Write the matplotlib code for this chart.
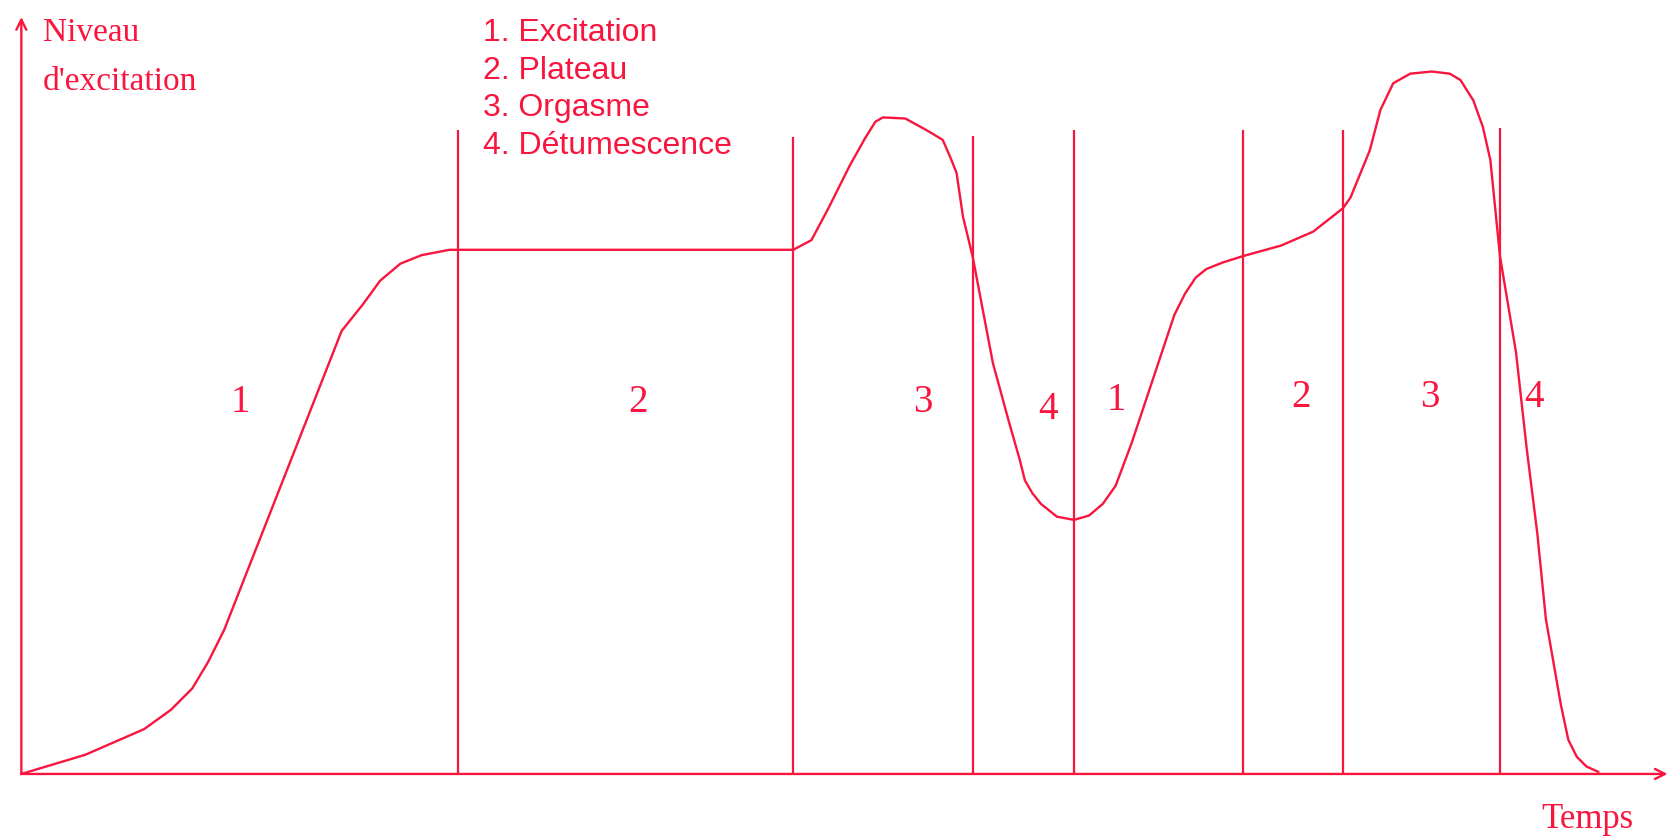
import matplotlib
matplotlib.use("Agg")
import matplotlib.pyplot as plt

# excitation curve (time, level in arbitrary units)
temps = [0, 60, 115, 140, 160, 175, 190, 300, 320, 336, 355, 375, 401, 723,
         740, 756, 776, 790, 800, 807, 828, 848, 863, 870, 876, 882, 891,
         910, 925, 935, 940, 947, 955, 970, 986, 1000, 1013, 1025, 1040,
         1060, 1080, 1090, 1100, 1110, 1125, 1144, 1180, 1210, 1238, 1245,
         1263, 1273, 1285, 1301, 1321, 1338, 1348, 1360, 1369, 1376, 1380,
         1385, 1400, 1410, 1420, 1428, 1435, 1442, 1449, 1457, 1466, 1477]
niveau = [0, 18, 42, 60, 80, 105, 135, 415, 440, 462, 478, 486, 491, 491,
          500, 530, 570, 595, 611, 615, 614, 603, 594, 578, 563, 522, 485,
          385, 330, 295, 275, 263, 253, 241, 238, 242, 253, 270, 310,
          370, 430, 450, 465, 473, 479, 485, 495, 508, 530, 540,
          584, 622, 647, 656, 658, 656, 650, 631, 606, 575, 535,
          485, 395, 305, 225, 145, 105, 65, 32, 16, 7, 2]

# phase boundaries and their heights
bornes = [409, 723, 891, 986, 1144, 1238, 1385]
hauteurs = [603, 597, 598, 603, 603, 603, 605]

# phase numbers in each zone
phases = ["1", "2", "3", "4", "1", "2", "3", "4"]
phase_t = [205, 578, 844, 962, 1026, 1199, 1319, 1417]
phase_n = [348, 348, 348, 341, 350, 353, 353, 353]

legende = ["1. Excitation", "2. Plateau", "3. Orgasme", "4. Détumescence"]

rouge = "#f8163f"

fig = plt.figure(figsize=(16.74, 8.38), dpi=100)
ax = fig.add_axes([0, 0, 1, 1])
ax.set_xlim(-20, 1548)
ax.set_ylim(-60, 725)
ax.axis("off")

# axes with arrows
ax.annotate("", xy=(0, 709), xytext=(0, 0),
            arrowprops=dict(arrowstyle="->", color=rouge, lw=1.7,
                            mutation_scale=18, shrinkA=0, shrinkB=0))
ax.annotate("", xy=(1542, 0), xytext=(0, 0),
            arrowprops=dict(arrowstyle="->", color=rouge, lw=1.7,
                            mutation_scale=18, shrinkA=0, shrinkB=0))

ax.vlines(bornes, 0, hauteurs, color=rouge, lw=1.6)
ax.plot(temps, niveau, color=rouge, lw=1.7)

for p, t, n in zip(phases, phase_t, phase_n):
    ax.text(t, n, p, color=rouge, fontsize=28, family="Liberation Serif",
            ha="center", va="center")

for i, txt in enumerate(legende):
    ax.text(432, 694 - i * 35.3, txt, color=rouge, fontsize=23,
            family="Liberation Sans", ha="left", va="center")

ax.text(20, 694, "Niveau", color=rouge, fontsize=24, family="Liberation Serif",
        ha="left", va="center")
ax.text(20, 648, "d'excitation", color=rouge, fontsize=24,
        family="Liberation Serif", ha="left", va="center")
ax.text(1467, -43, "Temps", color=rouge, fontsize=25, family="Liberation Serif",
        ha="center", va="center")

fig.savefig("out.png", dpi=100, facecolor="white")
